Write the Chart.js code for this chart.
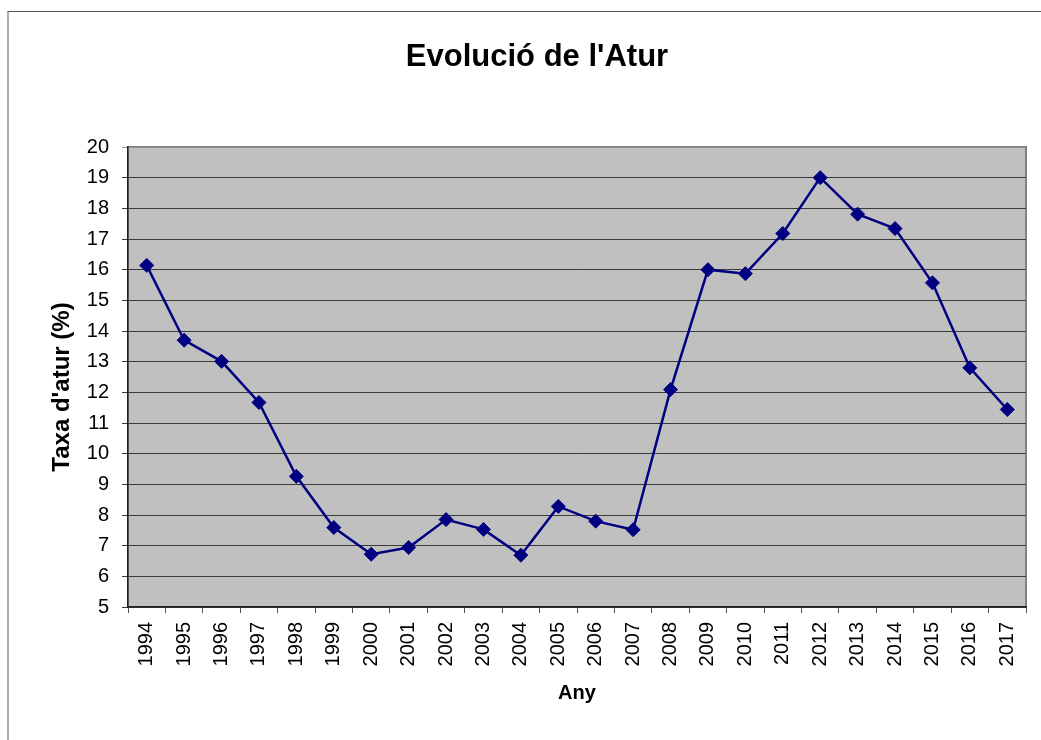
<!DOCTYPE html>
<html>
<head>
<meta charset="utf-8">
<script src="https://cdn.jsdelivr.net/npm/chart.js@4"></script>
<style>
  body { margin: 0; background: #fff; }
  #marc { position: absolute; left: 7px; top: 11px; width: 1100px; height: 800px;
          border-top: 1px solid #555; border-left: 2px solid #aaa; }
  #grafic { position: absolute; left: 0; top: 0; }
</style>
</head>
<body>
<div id="marc"></div>
<canvas id="grafic" width="1041" height="740"></canvas>
<script>
const ctx = document.getElementById('grafic');

let anys = ['1994', '1995', '1996', '1997', '1998', '1999', '2000', '2001', '2002', '2003', '2004', '2005',
            '2006', '2007', '2008', '2009', '2010', '2011', '2012', '2013', '2014', '2015', '2016', '2017']
let taxaAtur = [16.14, 13.70, 13.01, 11.67, 9.26, 7.59, 6.72, 6.94, 7.85, 7.53, 6.69, 8.28,
                7.80, 7.52, 12.09, 16.00, 15.87, 17.18, 19.00, 17.81, 17.34, 15.57, 12.80, 11.44]
let minY = 5
let maxY = 20

const lletra = "'Liberation Sans', Arial, sans-serif";

// fons gris de l'àrea del gràfic
const fonsGris = {
    id: 'fonsGris',
    beforeDraw(chart) {
        const a = chart.chartArea;
        const c = chart.ctx;
        c.save();
        c.fillStyle = '#c0c0c0';
        c.fillRect(a.left, a.top, a.right - a.left, a.bottom - a.top);
        c.strokeStyle = '#808080';
        c.lineWidth = 2;
        c.strokeRect(a.left, a.top, a.right - a.left, a.bottom - a.top);
        c.restore();
    }
};

new Chart(ctx, {
    type: 'line',
    data: {
        labels: anys,
        datasets: [{
            label: "Taxa d'atur",
            data: taxaAtur,
            borderColor: '#000080',
            backgroundColor: '#000080',
            borderWidth: 2.5,
            pointStyle: 'rectRot',
            pointRadius: 7,
            pointHoverRadius: 7,
            pointBorderWidth: 1,
            tension: 0
        }]
    },
    options: {
        responsive: false,
        animation: false,
        layout: { padding: { left: 48, right: 15, top: 0, bottom: 0 } },
        plugins: {
            legend: { display: false },
            tooltip: { enabled: false },
            title: {
                display: true,
                text: "Evolució de l'Atur",
                color: '#000',
                font: { family: lletra, size: 31, weight: 'bold' },
                padding: { top: 39, bottom: 70.8 }
            }
        },
        scales: {
            x: {
                offset: true,
                grid: { offset: true, drawOnChartArea: false, drawTicks: true, tickLength: 6, color: '#555' },
                border: { color: '#222', width: 1.5 },
                ticks: {
                    autoSkip: false, minRotation: 90, maxRotation: 90, padding: 9,
                    color: '#000', font: { family: lletra, size: 20 }
                },
                title: {
                    display: true, text: 'Any', color: '#000',
                    font: { family: lletra, size: 20, weight: 'bold' },
                    padding: { top: 0, bottom: 35 }
                },
                afterFit(scale) { scale.height = 133; }
            },
            y: {
                min: minY,
                max: maxY,
                grid: {
                    tickLength: 6,
                    color: (c) => c.tick && c.tick.value === maxY ? '#909090' : '#3a3a3a'
                },
                border: { color: '#222', width: 1.5 },
                ticks: {
                    stepSize: 1, padding: 13,
                    color: '#000', font: { family: lletra, size: 20 }
                },
                title: {
                    display: true, text: "Taxa d'atur (%)   ", color: '#000',
                    font: { family: lletra, size: 24, weight: 'bold' },
                    padding: { top: 0, bottom: 0 }
                },
                afterFit(scale) { scale.width = 80; }
            }
        }
    },
    plugins: [fonsGris]
});
</script>
</body>
</html>
